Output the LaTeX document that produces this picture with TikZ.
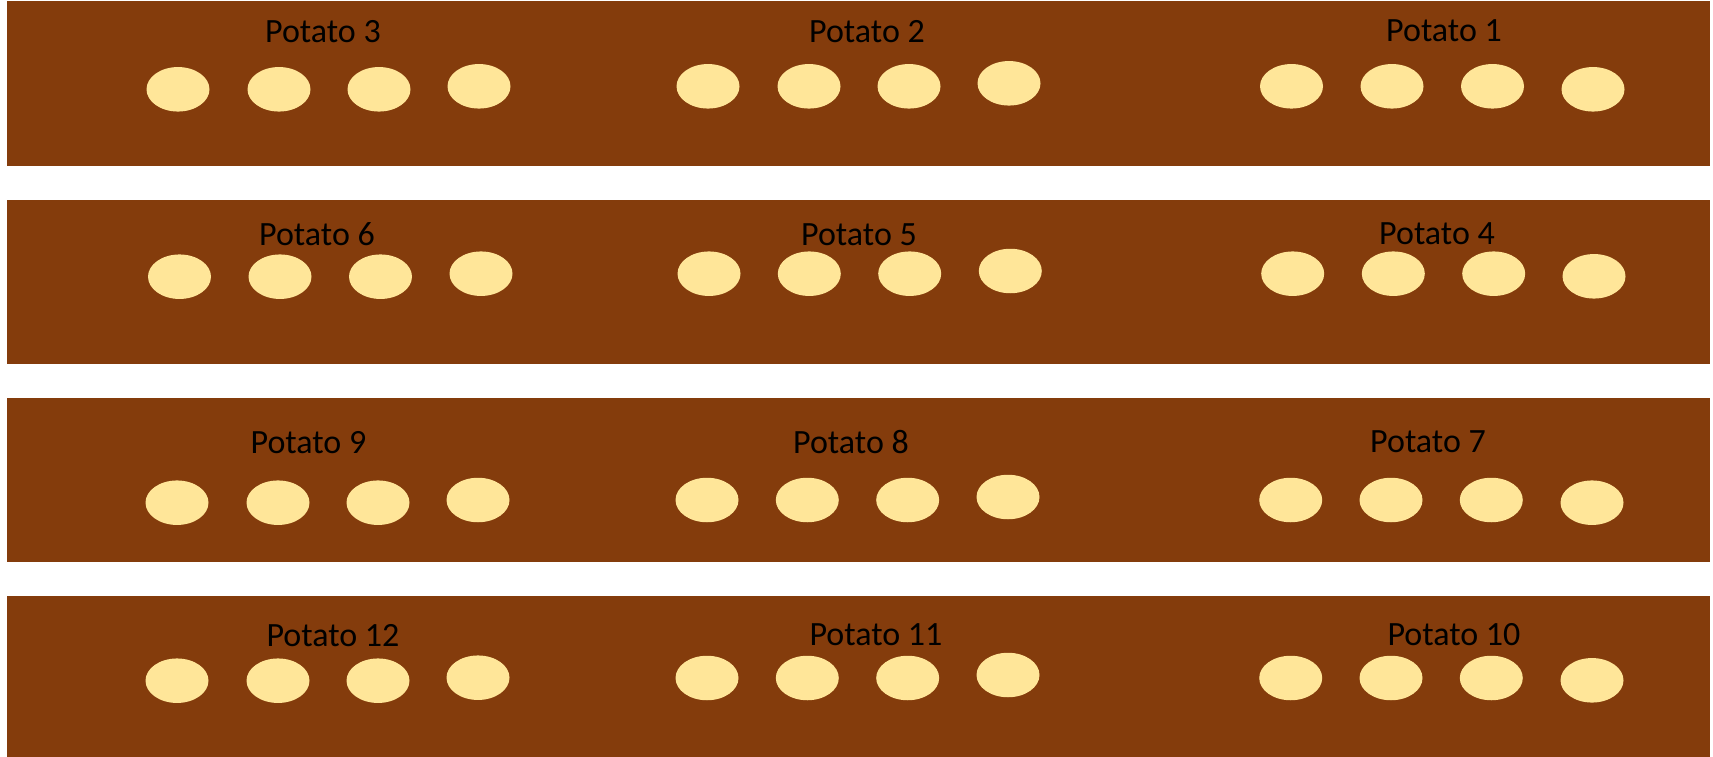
\documentclass[tikz,border=0pt]{standalone}
\usepackage{fontspec}
\setmainfont{Carlito}
\usetikzlibrary{shapes.geometric}
\definecolor{soil}{HTML}{843C0C}
\definecolor{spud}{HTML}{FFE699}
\tikzset{
  bed/.style={fill=soil},
  potato/.style={ellipse, fill=spud, draw=none, minimum width=63pt, minimum height=44.5pt, inner sep=0pt},
  lbl/.style={anchor=base, inner sep=0pt, text=black, font=\fontsize{34}{40}\selectfont}
}
\begin{document}
\begin{tikzpicture}[x=1pt,y=-1pt]
\useasboundingbox (0,0) rectangle (1713,757);
% beds
\fill[bed] (7,1) rectangle (1710,166);
\fill[bed] (7,200) rectangle (1710,364);
\fill[bed] (7,398) rectangle (1710,562);
\fill[bed] (7,596) rectangle (1710,757);
% labels
\node[lbl] (p3) at (323,42.5) {Potato 3};
\node[lbl] (p2) at (867,42.5) {Potato 2};
\node[lbl] (p1) at (1444,42) {Potato 1};
\node[lbl] (p6) at (317,245) {Potato 6};
\node[lbl] (p5) at (859,245) {Potato 5};
\node[lbl] (p4) at (1437,244.5) {Potato 4};
\node[lbl] (p9) at (308.5,453) {Potato 9};
\node[lbl] (p8) at (851,453) {Potato 8};
\node[lbl] (p7) at (1428,452) {Potato 7};
\node[lbl] (p12) at (333,646) {Potato 12};
\node[lbl] (p11) at (876,645.7) {Potato 11};
\node[lbl] (p10) at (1454,645.7) {Potato 10};
% potatoes
\foreach \n/\x/\y in {
  a1/178/89.3, a2/279/89.3, a3/379/89.3, a4/479/86.3,
  a5/708/86.3, a6/809/86.3, a7/909/86.3, a8/1009/83.3,
  a9/1291.5/86.3, a10/1392/86.3, a11/1492.5/86.3, a12/1593/89.3,
  b1/179.5/276.7, b2/280/276.7, b3/380.5/276.7, b4/481/273.7,
  b5/709/273.7, b6/809.3/273.7, b7/909.7/273.7, b8/1010.3/271,
  b9/1292.7/273.7, b10/1393.3/273.7, b11/1493.7/273.7, b12/1594/276.3,
  c1/177/502.7, c2/278/502.7, c3/378/502.7, c4/478/500,
  c5/707/500, c6/807.3/500, c7/907.7/500, c8/1008/497,
  c9/1290.7/500, c10/1391/500, c11/1491.3/500, c12/1592/502.7,
  d1/177/680.7, d2/278/680.7, d3/378/680.7, d4/478/677.7,
  d5/707/678, d6/807.3/678, d7/907.7/678, d8/1008/675,
  d9/1290.7/678, d10/1391/678, d11/1491.3/678, d12/1592/680.3}
  \node[potato] (\n) at (\x,\y) {};
\end{tikzpicture}
\end{document}
